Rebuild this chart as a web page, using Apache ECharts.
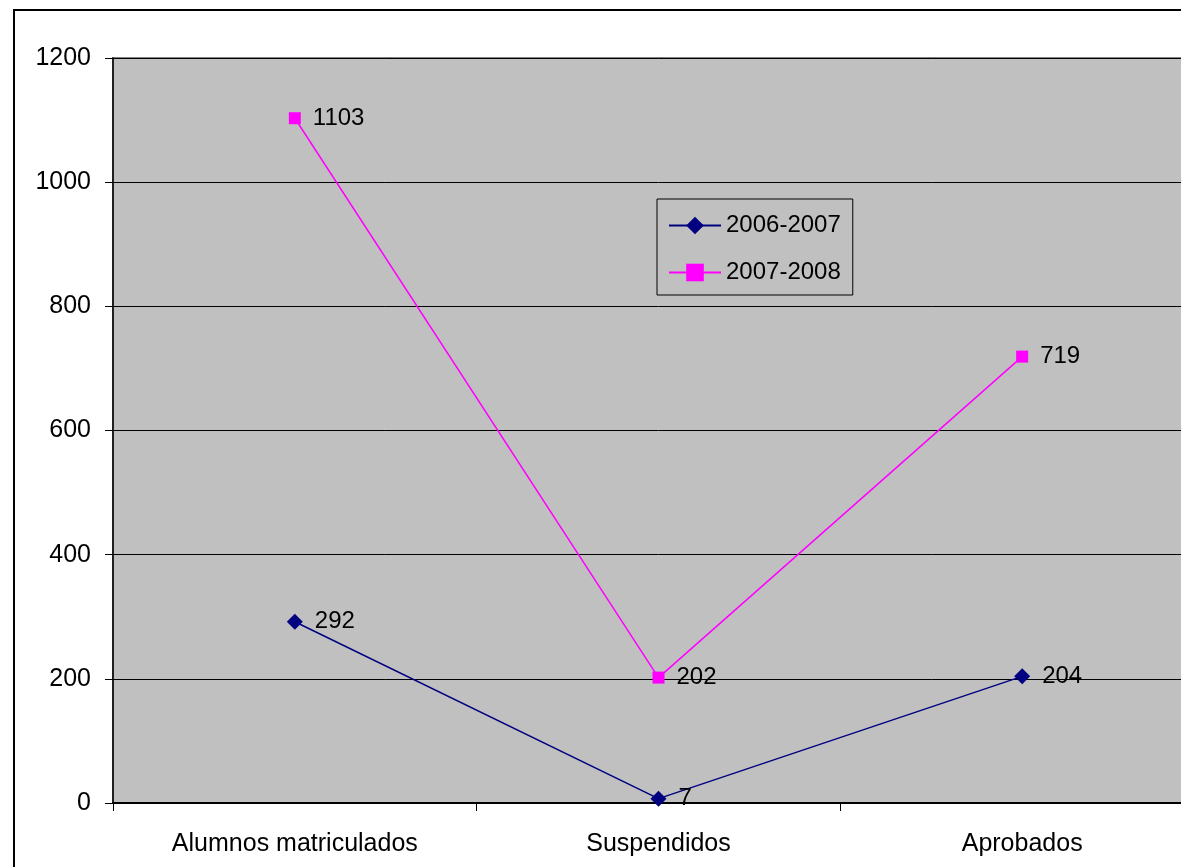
<!DOCTYPE html>
<html>
<head>
<meta charset="utf-8">
<script src="https://cdn.jsdelivr.net/npm/echarts@6/dist/echarts.min.js"></script>
<style>
  html, body { margin: 0; padding: 0; background: #fff; overflow: hidden; }
  /* the plot runs past the right edge of the picture, so the canvas is wider than the window */
  #chart { width: 1210px; height: 867px; }
</style>
</head>
<body>
<div id="chart"></div>
<script>
// categories and values
const categories = ['Alumnos matriculados', 'Suspendidos', 'Aprobados'];
const curso0607 = [292, 7, 204];
const curso0708 = [1103, 202, 719];
const seriesNames = ['2006-2007', '2007-2008'];

const FONT = "'Liberation Sans', Arial, sans-serif";

var chart = echarts.init(document.getElementById('chart'));

function lineSeries(name, data, color, symbol, size) {
  return {
    name: name,
    type: 'line',
    data: data,
    symbol: symbol,
    symbolSize: size,
    itemStyle: { color: color },
    lineStyle: { color: color, width: 1.5 },
    label: {
      show: true,
      position: 'right',
      distance: 12,
      color: '#000',
      fontFamily: FONT,
      fontSize: 24
    }
  };
}

chart.setOption({
  animation: false,
  backgroundColor: '#fff',
  textStyle: { fontFamily: FONT },
  graphic: [{
    type: 'rect',
    shape: { x: 14, y: 10, width: 1400, height: 1000 },
    style: { fill: 'none', stroke: '#000', lineWidth: 2 },
    z: 100
  }],
  grid: {
    left: 113, top: 58, right: 6, bottom: 64,
    show: true,
    backgroundColor: '#C0C0C0',
    borderColor: '#808080',
    borderWidth: 2
  },
  legend: {
    data: seriesNames,
    orient: 'vertical',
    left: 657, top: 199,
    backgroundColor: '#C0C0C0',
    borderColor: '#000',
    borderWidth: 1,
    padding: [14, 12, 10, 11],
    itemWidth: 52,
    itemHeight: 22,
    itemGap: 22,
    textStyle: { color: '#000', fontFamily: FONT, fontSize: 24, lineHeight: 25 }
  },
  xAxis: {
    type: 'category',
    data: categories,
    boundaryGap: true,
    axisLine: { lineStyle: { color: '#000', width: 2 } },
    axisTick: { show: true, length: 8, lineStyle: { color: '#000', width: 1 } },
    axisLabel: { color: '#000', fontFamily: FONT, fontSize: 25, margin: 29 },
    splitLine: { show: false }
  },
  yAxis: {
    type: 'value',
    min: 0, max: 1200, interval: 200,
    axisLine: { show: true, lineStyle: { color: '#000', width: 1.5 } },
    axisTick: { show: true, length: 8, lineStyle: { color: '#000', width: 1 } },
    axisLabel: { color: '#000', fontFamily: FONT, fontSize: 25, margin: 22,
      formatter: function (v) { return String(v); } },
    splitLine: { show: true, lineStyle: { color: '#000', width: 1 } }
  },
  series: [
    lineSeries(seriesNames[0], curso0607, '#000080', 'diamond', 16),
    lineSeries(seriesNames[1], curso0708, '#FF00FF', 'rect', 12)
  ]
});
</script>
</body>
</html>
